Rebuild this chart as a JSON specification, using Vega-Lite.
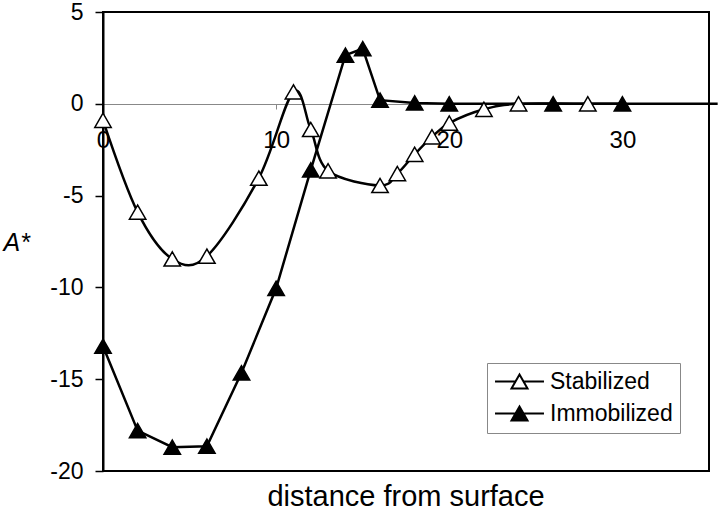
{
  "$schema": "https://vega.github.io/schema/vega-lite/v6.json",
  "width": 606,
  "height": 459,
  "autosize": "none",
  "padding": {"left": 103, "top": 12, "right": 11, "bottom": 40},
  "background": "white",
  "title": {"text": "distance from surface", "orient": "bottom", "anchor": "middle", "fontSize": 29, "fontWeight": "normal", "color": "black", "offset": 0, "font": "Liberation Sans"},
  "config": {
    "font": "Liberation Sans",
    "view": {"stroke": "black", "strokeWidth": 2}
  },
  "data": {
    "values": [
      {"series": "Stabilized", "x": 0, "y": -0.9},
      {"series": "Stabilized", "x": 2, "y": -5.9},
      {"series": "Stabilized", "x": 4, "y": -8.45},
      {"series": "Stabilized", "x": 6, "y": -8.3},
      {"series": "Stabilized", "x": 9, "y": -4.05},
      {"series": "Stabilized", "x": 11, "y": 0.65},
      {"series": "Stabilized", "x": 12, "y": -1.4},
      {"series": "Stabilized", "x": 13, "y": -3.65},
      {"series": "Stabilized", "x": 16, "y": -4.45},
      {"series": "Stabilized", "x": 17, "y": -3.8},
      {"series": "Stabilized", "x": 18, "y": -2.75},
      {"series": "Stabilized", "x": 19, "y": -1.8},
      {"series": "Stabilized", "x": 20, "y": -1.05},
      {"series": "Stabilized", "x": 22, "y": -0.3},
      {"series": "Stabilized", "x": 24, "y": 0},
      {"series": "Stabilized", "x": 28, "y": 0},
      {"series": "Stabilized", "x": 35.5, "y": 0},
      {"series": "Immobilized", "x": 0, "y": -13.2},
      {"series": "Immobilized", "x": 2, "y": -17.8},
      {"series": "Immobilized", "x": 4, "y": -18.7},
      {"series": "Immobilized", "x": 6, "y": -18.65},
      {"series": "Immobilized", "x": 8, "y": -14.65},
      {"series": "Immobilized", "x": 10, "y": -10.05},
      {"series": "Immobilized", "x": 12, "y": -3.6},
      {"series": "Immobilized", "x": 14, "y": 2.65},
      {"series": "Immobilized", "x": 15, "y": 3.0},
      {"series": "Immobilized", "x": 16, "y": 0.2},
      {"series": "Immobilized", "x": 18, "y": 0.05},
      {"series": "Immobilized", "x": 20, "y": 0},
      {"series": "Immobilized", "x": 26, "y": 0},
      {"series": "Immobilized", "x": 30, "y": 0}
    ]
  },
  "encoding": {
    "x": {
      "field": "x", "type": "quantitative",
      "scale": {"domain": [0, 35], "nice": false, "zero": false},
      "axis": {
        "title": null, "offset": -367, "values": [0, 10, 20, 30],
        "domainColor": "#888888", "domainWidth": 1,
        "tickColor": "#888888", "tickSize": 5, "tickWidth": 1,
        "labelFontSize": 24, "labelColor": "black", "labelPadding": 19,
        "grid": false, "labelFlush": false
      }
    },
    "y": {
      "field": "y", "type": "quantitative",
      "scale": {"domain": [-20, 5], "nice": false, "zero": false},
      "axis": {
        "title": "A*", "titleAngle": 0, "titleFontStyle": "italic", "titleFontWeight": "normal",
        "titleFontSize": 25, "titleColor": "black", "titleAlign": "left", "titleBaseline": "alphabetic",
        "titleX": -100, "titleY": 238,
        "values": [-20, -15, -10, -5, 0, 5],
        "labelExpr": "'' + datum.value",
        "domainColor": "black", "domainWidth": 2,
        "tickColor": "black", "tickSize": 8, "tickWidth": 1.5,
        "labelFontSize": 23, "labelColor": "black", "labelPadding": 12,
        "grid": false, "labelFlush": false
      }
    }
  },
  "layer": [
    {
      "transform": [{"filter": "datum.series === 'Stabilized'"}],
      "mark": {"type": "line", "interpolate": "cardinal", "color": "black", "strokeWidth": 2.5, "clip": false}
    },
    {
      "transform": [{"filter": "datum.series === 'Immobilized'"}],
      "mark": {"type": "line", "color": "black", "strokeWidth": 2.5}
    },
    {
      "transform": [{"filter": "datum.x <= 30"}],
      "mark": {"type": "point", "shape": "triangle-up", "filled": true, "size": 270, "stroke": "black", "strokeWidth": 1.5, "opacity": 1},
      "encoding": {
        "fill": {
          "field": "series", "type": "nominal",
          "scale": {"domain": ["Stabilized", "Immobilized"], "range": ["#ffffff", "#000000"]},
          "legend": {
            "title": null, "orient": "none", "legendX": 384, "legendY": 351,
            "symbolType": "M-3.06,0H-0.5M0.5,0H3.06M0,-0.866L1,0.866L-1,0.866Z",
            "symbolSize": 256, "symbolStrokeColor": "black", "symbolStrokeWidth": 2,
            "symbolOffset": 14, "labelOffset": 19,
            "labelFontSize": 23, "labelColor": "black",
            "rowPadding": 8, "padding": 7,
            "strokeColor": "#888888", "fillColor": "white"
          }
        }
      }
    }
  ]
}
